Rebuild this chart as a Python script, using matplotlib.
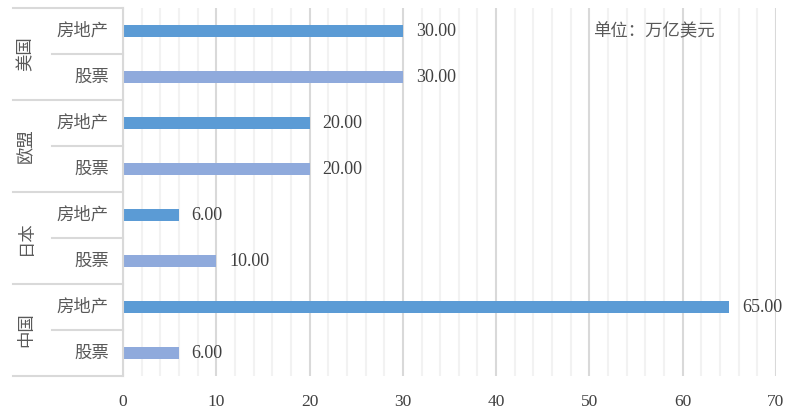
import matplotlib
matplotlib.use("Agg")
import matplotlib.pyplot as plt
from matplotlib.ticker import MultipleLocator
import matplotlib.transforms as mtransforms

# data, top to bottom
groups = ["美国", "欧盟", "日本", "中国"]
items = ["房地产", "股票"]
values = [30, 30, 20, 20, 6, 10, 65, 6]
colors = ["#5B9BD5", "#8FAADC"]

cjk = ["Noto Sans CJK SC", "DejaVu Sans"]
serif = "Liberation Serif"
txt = "#595959"
num_c = "#404040"
line_c = "#D9D9D9"

fig = plt.figure(figsize=(7.99, 4.12), dpi=100)
W, H = 799, 412
x0, x1, y_top, y_bot = 123, 776, 8, 376
ax = fig.add_axes([x0 / W, (H - y_bot) / H, (x1 - x0) / W, (y_bot - y_top) / H])

n = len(values)
ypos = list(range(n))
bar_cols = [colors[i % 2] for i in range(n)]
ax.barh(ypos, values, height=0.26, color=bar_cols, zorder=3)

ax.set_xlim(0, 70)
ax.set_ylim(n - 0.5, -0.5)
ax.xaxis.set_major_locator(MultipleLocator(10))
ax.xaxis.set_minor_locator(MultipleLocator(2))
ax.grid(True, which="major", axis="x", color=line_c, lw=1.5, zorder=1)
ax.grid(True, which="minor", axis="x", color="#F2F2F2", lw=1.5, zorder=0)
ax.tick_params(axis="x", which="both", length=0, pad=13, labelsize=12.5, labelcolor=num_c)
for lab in ax.get_xticklabels():
    lab.set_family(serif)
ax.set_yticks([])
for s in ["top", "right", "bottom"]:
    ax.spines[s].set_visible(False)
ax.spines["left"].set_color(line_c)
ax.spines["left"].set_linewidth(1.5)
ax.spines["left"].set_zorder(4)

# data labels
for y, v in zip(ypos, values):
    ax.annotate(f"{v:.2f}", (v, y), xytext=(9.2, 0), textcoords="offset points",
                ha="left", va="center", fontsize=13, family=serif, color=num_c)

# multi-level category axis
tr = mtransforms.blended_transform_factory(ax.transAxes, ax.transData)
pw = x1 - x0
def fx(px):
    return (px - x0) / pw

for g, name in enumerate(groups):
    top = 2 * g - 0.5
    ax.plot([fx(13), 0], [top, top], transform=tr, color=line_c, lw=1.5, clip_on=False)
    ax.plot([fx(52), 0], [top + 1, top + 1], transform=tr, color=line_c, lw=1.5, clip_on=False)
    ax.text(fx(26), top + 1, name, transform=tr, rotation=90, ha="center", va="center",
            fontsize=12.5, family=cjk, color=txt)
    for k, it in enumerate(items):
        ax.text(fx(109), 2 * g + k, it, transform=tr, ha="right", va="center",
                fontsize=12.5, family=cjk, color=txt)
ax.plot([fx(13), 0], [n - 0.5, n - 0.5], transform=tr, color=line_c, lw=1.5, clip_on=False)

ax.text(fx(593), 0, "单位：万亿美元", transform=tr, ha="left", va="center",
        fontsize=12.5, family=cjk, color=txt)

fig.savefig("out.png", dpi=100)
